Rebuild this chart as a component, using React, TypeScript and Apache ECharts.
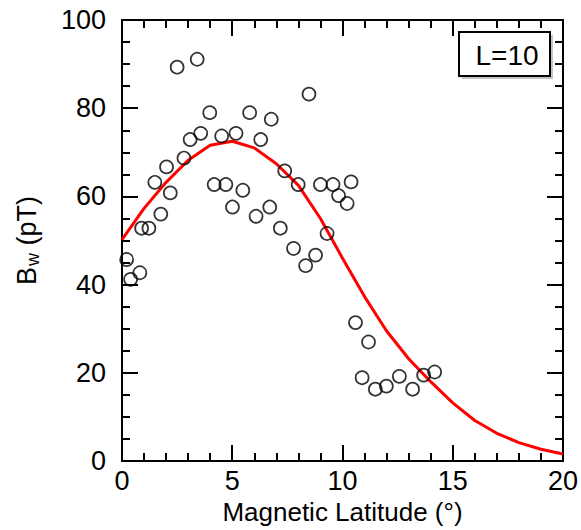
import React, { useEffect, useRef } from "react";
import * as echarts from "echarts";

const obsLat = [0.21, 0.39, 0.81, 0.89, 1.22, 1.49, 1.76, 2.02, 2.19, 2.5, 2.81, 3.09, 3.41, 3.57, 3.98, 4.18, 4.52, 4.71, 5.01, 5.17, 5.48, 5.79, 6.08, 6.29, 6.7, 6.77, 7.18, 7.38, 7.78, 7.99, 8.33, 8.48, 8.78, 9.0, 9.3, 9.57, 9.82, 10.21, 10.39, 10.59, 10.89, 11.18, 11.49, 11.99, 12.58, 13.18, 13.68, 14.18];
const obsBw = [45.7, 41.2, 42.7, 52.8, 52.8, 63.2, 56.0, 66.7, 60.8, 89.3, 68.7, 72.9, 91.1, 74.3, 79.0, 62.7, 73.7, 62.7, 57.6, 74.3, 61.4, 79.0, 55.5, 72.9, 57.6, 77.5, 52.8, 65.8, 48.2, 62.7, 44.3, 83.2, 46.7, 62.7, 51.6, 62.7, 60.2, 58.4, 63.3, 31.4, 18.9, 27.0, 16.3, 17.0, 19.2, 16.3, 19.5, 20.2];

const fitLat = [0, 1, 2, 3, 4, 5, 6, 7, 8, 9, 10, 11, 12, 13, 14, 15, 16, 17, 18, 19, 20];
const fitBw = [50.2, 57.3, 63.2, 68.2, 71.6, 72.5, 71.0, 67.4, 62.5, 55.0, 46.0, 37.3, 29.5, 23.2, 18.0, 13.2, 9.2, 6.3, 4.2, 2.7, 1.6];

const xTicks = [0, 5, 10, 15, 20];
const yTicks = [0, 20, 40, 60, 80, 100];

const FONT = "'Liberation Sans', Arial, Helvetica, sans-serif";

export default function App() {
  const ref = useRef<HTMLDivElement>(null);
  useEffect(() => {
    if (!ref.current) return;
    const chart = echarts.init(ref.current, null, { renderer: "svg" });
    const xMin = xTicks[0];
    const xMax = xTicks[xTicks.length - 1];
    const yMin = yTicks[0];
    const yMax = yTicks[yTicks.length - 1];
    const major = (len: number, showLine: boolean) => ({
      axisLine: { show: showLine, onZero: false, lineStyle: { color: "#000", width: 2 } },
      axisTick: { show: true, inside: true, length: len, lineStyle: { color: "#000", width: 2 } },
      minorTick: { show: false },
      splitLine: { show: false },
      minorSplitLine: { show: false },
    });
    const tickAxisX = (pos: string, interval: number, len: number, showLine: boolean) => ({
      type: "value",
      min: xMin,
      max: xMax,
      interval,
      position: pos,
      ...major(len, showLine),
      axisLabel: { show: false },
    });
    const tickAxisY = (pos: string, interval: number, len: number, showLine: boolean) => ({
      type: "value",
      min: yMin,
      max: yMax,
      interval,
      position: pos,
      ...major(len, showLine),
      axisLabel: { show: false },
    });
    chart.setOption({
      animation: false,
      backgroundColor: "#fff",
      grid: { left: 122, right: 17, top: 20, bottom: 68, containLabel: false },
      xAxis: [
        {
          type: "value",
          min: xMin,
          max: xMax,
          interval: 5,
          position: "bottom",
          ...major(16, true),
          axisLabel: { color: "#000", fontSize: 27, fontFamily: FONT, margin: 6 },
          name: "Magnetic Latitude (°)",
          nameLocation: "middle",
          nameGap: 35,
          nameTextStyle: { color: "#000", fontSize: 26, fontFamily: FONT },
        },
        tickAxisX("top", 5, 16, true),
        tickAxisX("bottom", 1, 8, false),
        tickAxisX("top", 1, 8, false),
      ],
      yAxis: [
        {
          type: "value",
          min: yMin,
          max: yMax,
          interval: 20,
          position: "left",
          ...major(16, true),
          axisLabel: { color: "#000", fontSize: 27, fontFamily: FONT, margin: 16 },
          name: "{b|B}{s|w}{b| (pT)}",
          nameLocation: "middle",
          nameGap: 80,
          nameRotate: 90,
          nameTextStyle: {
            color: "#000",
            fontFamily: FONT,
            rich: {
              b: { fontSize: 27, fontFamily: FONT, color: "#000", lineHeight: 30 },
              s: { fontSize: 18, fontFamily: FONT, color: "#000", lineHeight: 30, padding: [12, 0, 0, 1] },
            },
          },
        },
        tickAxisY("right", 20, 16, true),
        tickAxisY("left", 5, 8, false),
        tickAxisY("right", 5, 8, false),
      ],
      graphic: [
        {
          type: "rect",
          shape: { x: 462, y: 35, width: 91, height: 44 },
          style: { fill: "#c4c4c4" },
          z: 10,
        },
        {
          type: "rect",
          shape: { x: 459, y: 32, width: 91, height: 44 },
          style: { fill: "#fff", stroke: "#000", lineWidth: 2 },
          z: 11,
        },
        {
          type: "text",
          x: 507,
          y: 55,
          style: {
            text: "L=10",
            fill: "#000",
            fontSize: 28,
            fontFamily: FONT,
            align: "center",
            verticalAlign: "middle",
          },
          z: 12,
        },
      ],
      series: [
        {
          type: "line",
          data: fitLat.map((x, i) => [x, fitBw[i]]),
          showSymbol: false,
          lineStyle: { color: "#ff0000", width: 3 },
          z: 2,
        },
        {
          type: "scatter",
          data: obsLat.map((x, i) => [x, obsBw[i]]),
          symbol: "circle",
          symbolSize: 13,
          itemStyle: { color: "rgba(0,0,0,0)", borderColor: "#000", borderWidth: 1.7 },
          z: 3,
        },
      ],
    });
    return () => chart.dispose();
  }, []);
  return (
    <div
      ref={ref}
      style={{ position: "fixed", left: 0, top: 0, width: 581, height: 530, background: "#fff" }}
    />
  );
}
